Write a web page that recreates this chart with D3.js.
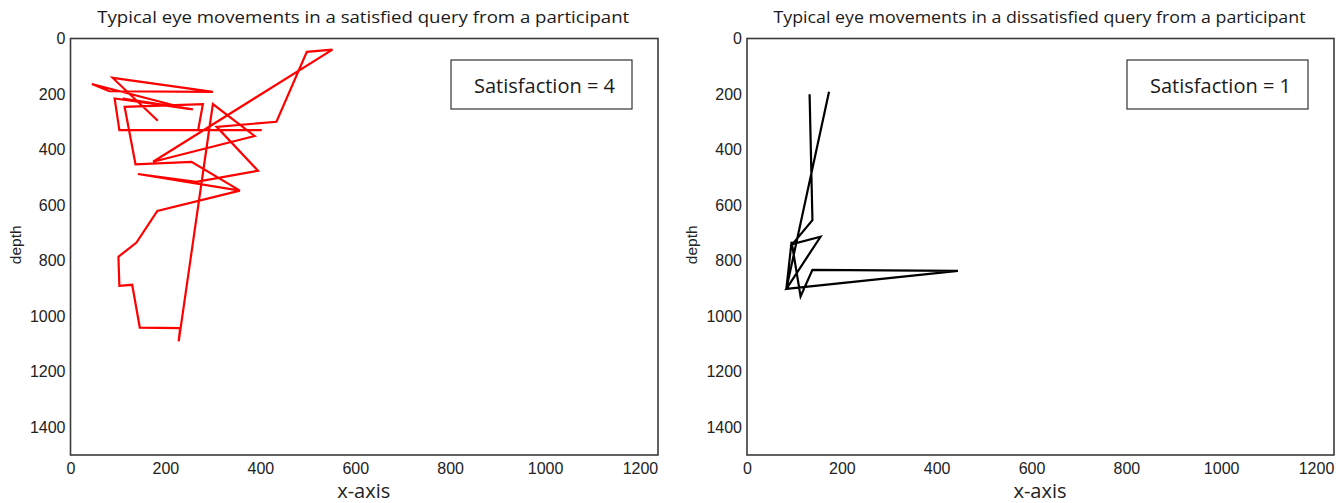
<!DOCTYPE html>
<html>
<head>
<meta charset="utf-8">
<script src="https://cdn.jsdelivr.net/npm/d3@7"></script>
<style>
  html, body { margin: 0; padding: 0; background: #fff; }
  svg { display: block; }
</style>
</head>
<body>
<svg id="chart" width="1342" height="503"></svg>
<script>
// ---------- data ----------
const xTicks = [0, 200, 400, 600, 800, 1000, 1200];
const yTicks = [0, 200, 400, 600, 800, 1000, 1200, 1400];

const titles = [
  "Typical eye movements in a satisfied query from a participant",
  "Typical eye movements in a dissatisfied query from a participant"
];
const satisfactionLabels = ["Satisfaction = 4", "Satisfaction = 1"];

// satisfied query gaze path (x-axis, depth)
const satisfiedX = [184, 89, 300, 82, 45, 248, 110, 258, 93, 103, 403, 269, 279, 114, 137, 255, 357, 142, 265, 395, 308, 434, 498, 552, 174, 388, 300, 228, 231, 146, 130, 103, 101, 139, 183, 357];
const satisfiedDepth = [296, 142, 192, 190, 164, 254, 216, 255, 216, 330, 330, 330, 236, 246, 453, 444, 548, 488, 516, 476, 318, 300, 48, 40, 444, 351, 236, 1091, 1043, 1041, 887, 891, 786, 735, 621, 548];

// dissatisfied query gaze path (x-axis, depth)
const dissatisfiedX = [132, 138, 96, 155, 83, 445, 138, 113, 94, 83, 173];
const dissatisfiedDepth = [201, 654, 740, 714, 902, 837, 833, 929, 732, 902, 192];

// ---------- layout ----------
const svg = d3.select("#chart");
const panels = [
  { left: 70.5, right: 658, top: 38.5, bottom: 455, xs: satisfiedX, ds: satisfiedDepth, color: "#ff0000",
    box: [451, 60, 181, 49] },
  { left: 747, right: 1334, top: 38.5, bottom: 455, xs: dissatisfiedX, ds: dissatisfiedDepth, color: "#000000",
    box: [1127, 60, 181, 49] }
];

const textFont = "'Open Sans', 'Noto Sans', sans-serif";
const tickFont = "'Liberation Sans', Arial, sans-serif";

panels.forEach((p, i) => {
  const x = d3.scaleLinear().domain([0, 1238]).range([p.left, p.right]);
  const y = d3.scaleLinear().domain([0, 1500]).range([p.top, p.bottom]);
  const g = svg.append("g");

  // line
  const pts = p.xs.map((v, k) => [v, p.ds[k]]);
  const line = d3.line().x(d => x(d[0])).y(d => y(d[1]));
  g.append("path")
    .attr("d", line(pts))
    .attr("fill", "none")
    .attr("stroke", p.color)
    .attr("stroke-width", 2.2)
    .attr("stroke-linejoin", "miter");

  // frame
  g.append("rect")
    .attr("x", p.left).attr("y", p.top)
    .attr("width", p.right - p.left).attr("height", p.bottom - p.top)
    .attr("fill", "none").attr("stroke", "#3a3a3a").attr("stroke-width", 1.6);

  // x axis labels
  const xAxis = d3.axisBottom(x).tickValues(xTicks).tickFormat(d3.format("d")).tickSize(0).tickPadding(8);
  const xg = g.append("g").attr("transform", `translate(0,${p.bottom})`).call(xAxis);
  xg.select(".domain").remove();
  xg.selectAll("text").attr("font-family", tickFont).attr("font-size", 16).attr("fill", "#222");

  // y axis labels
  const yAxis = d3.axisLeft(y).tickValues(yTicks).tickFormat(d3.format("d")).tickSize(0).tickPadding(5);
  const yg = g.append("g").attr("transform", `translate(${p.left},0)`).call(yAxis);
  yg.select(".domain").remove();
  yg.selectAll("text").attr("font-family", tickFont).attr("font-size", 16).attr("fill", "#222");

  // y axis title
  g.append("text")
    .attr("transform", `translate(${p.left - 50},${(p.top + p.bottom) / 2 - 2}) rotate(-90)`)
    .attr("text-anchor", "middle")
    .attr("font-family", tickFont).attr("font-size", 15.5).attr("fill", "#222")
    .text("depth");

  // x axis title
  g.append("text")
    .attr("x", (p.left + p.right) / 2 - 0.5).attr("y", 498)
    .attr("text-anchor", "middle")
    .attr("font-family", textFont).attr("font-size", 20).attr("fill", "#222")
    .text("x-axis");

  // title
  g.append("text")
    .attr("x", (p.left + p.right) / 2 - 1).attr("y", 23)
    .attr("text-anchor", "middle")
    .attr("font-family", textFont).attr("font-size", 16.5).attr("fill", "#1a1a1a")
    .attr("textLength", 532).attr("lengthAdjust", "spacingAndGlyphs")
    .text(titles[i]);

  // satisfaction box
  const [bx, by, bw, bh] = p.box;
  g.append("rect")
    .attr("x", bx).attr("y", by).attr("width", bw).attr("height", bh)
    .attr("fill", "#fff").attr("stroke", "#333").attr("stroke-width", 1.2);
  g.append("text")
    .attr("x", bx + bw / 2 + 3).attr("y", by + 33)
    .attr("text-anchor", "middle")
    .attr("font-family", textFont).attr("font-size", 20).attr("fill", "#1a1a1a")
    .text(satisfactionLabels[i]);
});
</script>
</body>
</html>
